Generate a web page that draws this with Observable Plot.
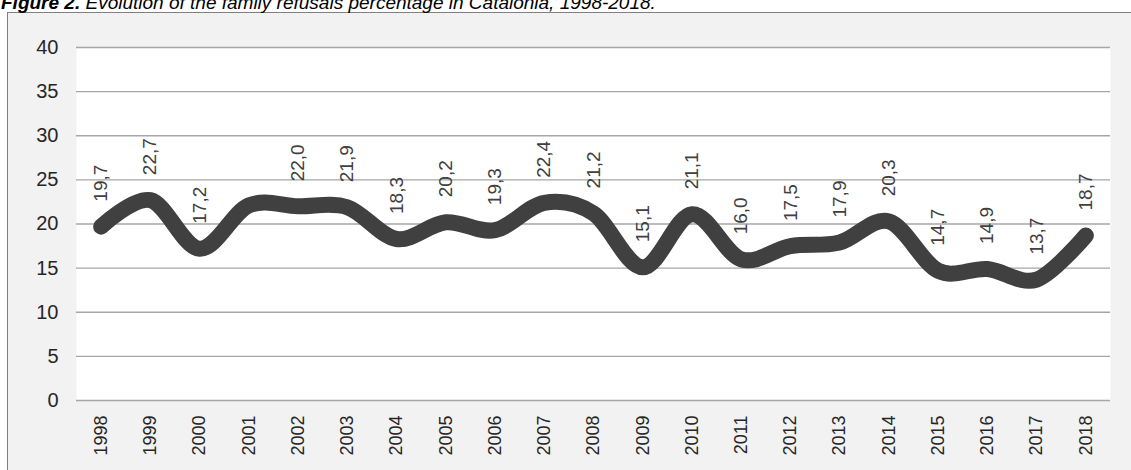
<!DOCTYPE html>
<html>
<head>
<meta charset="utf-8">
<script src="https://cdn.jsdelivr.net/npm/d3@7"></script>
<script src="https://cdn.jsdelivr.net/npm/@observablehq/plot@0.6"></script>
<style>
  html, body { margin: 0; padding: 0; background: white; overflow: hidden; }
  #wrap { position: relative; width: 1131px; height: 470px; overflow: hidden; font-family: "Liberation Sans", Arial, sans-serif; }
  #box { position: absolute; left: 7px; top: 12px; width: 1200px; height: 520px; background: #f2f2f2; border: 1px solid #808080; }
  #title { position: absolute; left: 1px; top: -7px; font-size: 19px; line-height: 19px; font-style: italic; color: #000; white-space: nowrap; }
  #chart { position: absolute; left: 0; top: 0; }
</style>
</head>
<body>
<div id="wrap">
  <div id="box"></div>
  <div id="title"><b>Figure 2.</b> Evolution of the family refusals percentage in Catalonia, 1998-2018.</div>
  <div id="chart"></div>
</div>
<script>
const years = [1998, 1999, 2000, 2001, 2002, 2003, 2004, 2005, 2006, 2007, 2008, 2009, 2010, 2011, 2012, 2013, 2014, 2015, 2016, 2017, 2018];
const refusals = [19.7, 22.7, 17.2, 22.1, 22.0, 21.9, 18.3, 20.2, 19.3, 22.4, 21.2, 15.1, 21.1, 16.0, 17.5, 17.9, 20.3, 14.7, 14.9, 13.7, 18.7];
const labels = ["19,7", "22,7", "17,2", "", "22,0", "21,9", "18,3", "20,2", "19,3", "22,4", "21,2", "15,1", "21,1", "16,0", "17,5", "17,9", "20,3", "14,7", "14,9", "13,7", "18,7"];
const yTicks = [0, 5, 10, 15, 20, 25, 30, 35, 40];

const data = years.map((y, i) => ({year: y, value: refusals[i], label: labels[i]}));
const font = "Liberation Sans, Arial, sans-serif";

const chart = Plot.plot({
  width: 1131,
  height: 470,
  marginLeft: 76,
  marginRight: 21,
  marginTop: 47,
  marginBottom: 70,
  style: {background: "transparent", overflow: "visible", fontFamily: font},
  x: {type: "linear", domain: [1997.5, 2018.5]},
  y: {domain: [0, 40]},
  marks: [
    Plot.frame({fill: "white", stroke: null}),
    Plot.gridY(yTicks, {stroke: "#a6a6a6", strokeOpacity: 1, strokeWidth: 1.3}),
    Plot.axisY(yTicks, {tickSize: 0, tickPadding: 18, fontSize: 20, fill: "#262626", label: null}),
    Plot.axisX(years, {tickSize: 0, tickPadding: 15, tickRotate: -90, fontSize: 18, fill: "#262626", label: null, tickFormat: d => String(d)}),
    Plot.line(data, {x: "year", y: "value", stroke: "#404040", strokeWidth: 16, strokeLinecap: "round", strokeLinejoin: "round", curve: "cardinal", tension: 0}),
    Plot.text(data.filter(d => d.label !== ""), {x: "year", y: "value", text: "label", rotate: -90, textAnchor: "start", dy: -25, fontSize: 19, fill: "#404040"})
  ]
});
document.getElementById("chart").appendChild(chart);
</script>
</body>
</html>
